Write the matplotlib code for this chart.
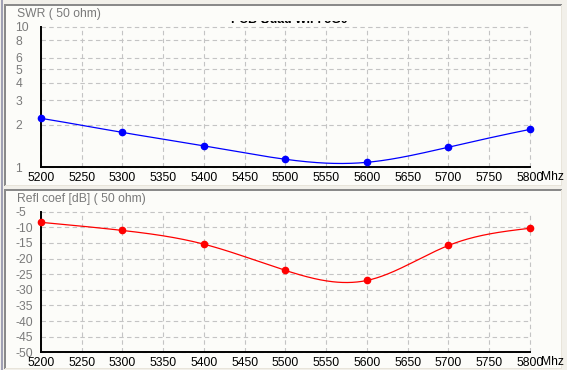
import numpy as np
import matplotlib
matplotlib.use("Agg")
import matplotlib.pyplot as plt
from matplotlib.lines import Line2D
from matplotlib.transforms import Bbox

# ---- data ----
freq = [5200, 5300, 5400, 5500, 5600, 5700, 5800]
swr = [2.23, 1.77, 1.42, 1.14, 1.085, 1.39, 1.86]
refl_db = [-8.4, -11.0, -15.4, -23.8, -27.0, -15.8, -10.3]
x_ticks = [5200, 5250, 5300, 5350, 5400, 5450, 5500, 5550, 5600, 5650, 5700, 5750, 5800]
swr_ticks = [1, 2, 3, 4, 5, 6, 8, 10]
refl_ticks = [-5, -10, -15, -20, -25, -30, -35, -40, -45, -50]
title_swr = "SWR ( 50 ohm)"
title_refl = "Refl coef [dB] ( 50 ohm)"
chart_title = "PCB Quad WiFi 5G0"

W, H = 567, 370
FS = 8.7
fig = plt.figure(figsize=(W / 100, H / 100), dpi=100)
fig.patch.set_facecolor("#f2f0ea")
plt.rcParams['font.family'] = ['Liberation Sans', 'DejaVu Sans']


def natural_spline(x, y, n=400):
    x = np.asarray(x, float)
    y = np.asarray(y, float)
    k = len(x)
    h = np.diff(x)
    A = np.zeros((k, k))
    r = np.zeros(k)
    A[0, 0] = A[-1, -1] = 1
    for i in range(1, k - 1):
        A[i, i - 1] = h[i - 1]
        A[i, i] = 2 * (h[i - 1] + h[i])
        A[i, i + 1] = h[i]
        r[i] = 6 * ((y[i + 1] - y[i]) / h[i] - (y[i] - y[i - 1]) / h[i - 1])
    M = np.linalg.solve(A, r)
    xs = np.linspace(x[0], x[-1], n)
    idx = np.clip(np.searchsorted(x, xs) - 1, 0, k - 2)
    xi, xi1, hi = x[idx], x[idx + 1], h[idx]
    ys = (M[idx] * (xi1 - xs) ** 3 / (6 * hi) + M[idx + 1] * (xs - xi) ** 3 / (6 * hi)
          + (y[idx] / hi - M[idx] * hi / 6) * (xi1 - xs)
          + (y[idx + 1] / hi - M[idx + 1] * hi / 6) * (xs - xi))
    return xs, ys


def fx(px):
    return px / W


def fy(py):
    return 1 - py / H


def fline(x0, y0, x1, y1, color, lw=1.0):
    fig.add_artist(Line2D([fx(x0), fx(x1)], [fy(y0), fy(y1)], color=color,
                          linewidth=lw * 0.72, transform=fig.transFigure))


# panels
for (top, bot) in [(5, 185), (190, 368)]:
    fig.add_artist(plt.Rectangle((fx(5), fy(bot)), fx(561) - fx(5), fy(top) - fy(bot),
                                 transform=fig.transFigure, facecolor="#fcfcf9",
                                 edgecolor="none", zorder=0))
    fline(5, top, 561, top, "#8a8a8a", 2)
    fline(5, top, 5, bot, "#8a8a8a", 2)
    fline(561, top, 561, bot, "#e8e4da", 1)
    fline(5, bot, 561, bot, "#e8e4da", 1)
fline(1.5, 0, 1.5, 370, "#a0a0b4", 2)

ax_left = fx(41)
ax_w = fx(530) - fx(41)
ax1 = fig.add_axes([ax_left, fy(167.3), ax_w, fy(26.7) - fy(167.3)])
ax2 = fig.add_axes([ax_left, fy(352.3), ax_w, fy(211.7) - fy(352.3)])

gridc = "#c4c4c4"
for ax, yt, ylim in [(ax1, swr_ticks, (1, 10)), (ax2, refl_ticks, (-50, -5))]:
    ax.set_facecolor("none")
    if ax is ax1:
        ax.set_yscale("log")
        ax.minorticks_off()
    ax.set_xlim(5200, 5800)
    ax.set_ylim(*ylim)
    for s in ["top", "right"]:
        ax.spines[s].set_visible(False)
    for s in ["left", "bottom"]:
        ax.spines[s].set_color("black")
        ax.spines[s].set_linewidth(1.4)
        ax.spines[s].set_zorder(3)
    for v in yt:
        ax.axhline(v, color=gridc, lw=0.8, ls=(0, (4, 3)), clip_on=False, zorder=1)
    for v in x_ticks:
        ax.axvline(v, color=gridc, lw=0.8, ls=(0, (4, 3)), clip_on=False, zorder=1)
    ax.set_xticks(x_ticks)
    ax.set_xticklabels([str(v) for v in x_ticks], fontsize=FS, color="black")
    ax.set_yticks(yt)
    ax.set_yticklabels([str(v) for v in yt], fontsize=FS, color="#7a7a7a", ha="left")
    ax.tick_params(axis="both", length=0)
    ax.tick_params(axis="x", pad=3.3)
    ax.tick_params(axis="y", pad=18.5)

xs, ys = natural_spline(freq, swr)
ax1.plot(xs, ys, color="#0000ff", lw=0.9, zorder=4)
ax1.plot(freq, swr, "o", color="#0000ff", ms=4.5, zorder=5, clip_on=False)
xs, ys = natural_spline(freq, refl_db)
ax2.plot(xs, ys, color="#ff0000", lw=0.9, zorder=4)
ax2.plot(freq, refl_db, "o", color="#ff0000", ms=4.5, zorder=5, clip_on=False)

# "Mhz" suffix after the last tick label
for ypx in (176.7, 361.7):
    fig.text(fx(541.5), fy(ypx), "Mhz", fontsize=FS, ha="left", va="center", color="black")

# panel titles
fig.text(fx(17), fy(14), title_swr, fontsize=FS, color="#7a7a7a", ha="left", va="center")
fig.text(fx(17), fy(199), title_refl, fontsize=FS, color="#7a7a7a", ha="left", va="center")

# clipped chart title (only its lower edge is visible)
t = fig.text(fx(289), fy(22.5), chart_title, fontsize=8.8, fontweight="bold",
             ha="center", va="baseline", color="black")
t.set_clip_box(Bbox.from_extents(0, H - 23, W, H - 20.5))
t.set_clip_on(True)

fig.savefig("out.png", dpi=100, facecolor=fig.get_facecolor())
